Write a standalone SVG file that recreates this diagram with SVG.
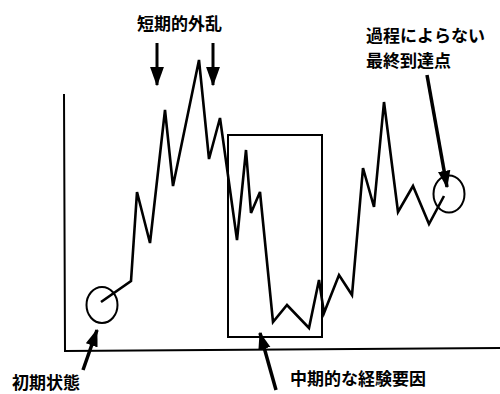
<svg xmlns="http://www.w3.org/2000/svg" width="500" height="394" viewBox="0 0 500 394">
<defs>
<style>
.t{font-family:"Noto Sans CJK JP","Noto Sans CJK SC",sans-serif;font-weight:bold;font-size:17px;fill:#000}
.s{fill:none;stroke:#000;stroke-linejoin:miter;stroke-linecap:butt}
</style>
<marker id="ah" viewBox="0 0 14 10" refX="13" refY="5" markerWidth="6.6" markerHeight="4.7" orient="auto" markerUnits="strokeWidth"><path d="M0,0 L14,5 L0,10 z" fill="#000"/></marker>
<marker id="ah2" viewBox="0 0 14 10" refX="13" refY="5" markerWidth="5" markerHeight="3.7" orient="auto" markerUnits="strokeWidth"><path d="M0,0 L14,5 L0,10 z" fill="#000"/></marker>
</defs>
<rect width="500" height="394" fill="#fff"/>
<g id="axes">
<path class="s" stroke-width="2" d="M64,94 L65,351 L500,348"/>
</g>
<g id="box">
<rect class="s" stroke-width="2" x="228" y="135" width="94" height="202"/>
</g>
<g id="trajectory">
<polyline class="s" stroke-width="2.6" points="101,302 131,281 137,192 150,243 165,110 173,186 199,60 209,159 220,118 237,240 246,150 251,213 260,192 273,322 287,305 309,328 319,280 324,313 339,275 352,295 363,168 374,207 384,102 398,212 413,186 429,224 444,196"/>
</g>
<g id="initial">
<ellipse class="s" stroke-width="2" cx="102" cy="305" rx="15.5" ry="18"/>
<text class="t" x="12" y="389">初期状態</text>
</g>
<g id="final">
<ellipse class="s" stroke-width="2" cx="449" cy="194" rx="15.5" ry="18.5"/>
<text class="t" x="366" y="42">過程によらない</text>
<text class="t" x="366" y="67">最終到達点</text>
</g>
<g id="shortterm">
<text class="t" x="137" y="30">短期的外乱</text>
</g>
<g id="midterm">
<text class="t" x="290" y="385">中期的な経験要因</text>
</g>
<g id="connectors">
<line class="s" stroke-width="3" x1="157" y1="43" x2="157" y2="85" marker-end="url(#ah)"/>
<line class="s" stroke-width="3" x1="213" y1="43" x2="213" y2="85" marker-end="url(#ah)"/>
<line class="s" stroke-width="3.5" x1="427" y1="75" x2="447" y2="187" marker-end="url(#ah2)"/>
<line class="s" stroke-width="3.5" x1="83" y1="370" x2="97" y2="330" marker-end="url(#ah2)"/>
<line class="s" stroke-width="3.5" x1="276" y1="390" x2="260" y2="333" marker-end="url(#ah2)"/>
</g>
</svg>
